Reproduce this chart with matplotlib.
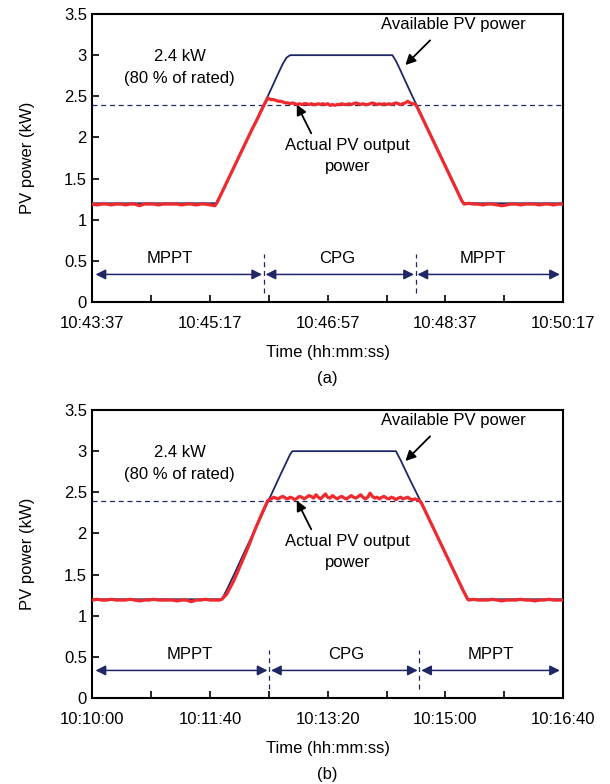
import numpy as np
import matplotlib
matplotlib.use("Agg")
import matplotlib.pyplot as plt

plt.rcParams['font.family'] = ['Liberation Sans', 'DejaVu Sans']

NAVY = '#1f2766'
RED = '#ee2a2e'

# ---------------- Panel (a) data ----------------
a_xticklabels = ["10:43:37", "10:45:17", "10:46:57", "10:48:37", "10:50:17"]
a_av_t = [0, 60, 105, 110, 120, 130, 140, 150, 158, 162, 165, 168, 255, 258, 262, 270, 275, 280, 290, 300, 310, 315, 360, 400]
a_av_p = [1.20, 1.20, 1.20, 1.33, 1.63, 1.93, 2.23, 2.53, 2.78, 2.90, 2.97, 3.00, 3.00, 2.93, 2.81, 2.56, 2.41, 2.26, 1.96, 1.66, 1.36, 1.20, 1.20, 1.20]

a_m1 = [1.19, 1.18, 1.19, 1.19, 1.18, 1.19, 1.19, 1.18, 1.19, 1.19, 1.17, 1.19, 1.19, 1.19,
        1.18, 1.19, 1.19, 1.19, 1.19, 1.18, 1.19, 1.19, 1.18, 1.19, 1.19, 1.18, 1.17]
a_up_t = [106, 110, 115, 120, 125, 130, 135, 140, 145, 149]
a_up_p = [1.21, 1.33, 1.48, 1.63, 1.78, 1.93, 2.08, 2.22, 2.37, 2.48]
a_cpg = [2.47, 2.46, 2.46, 2.45, 2.44, 2.44, 2.43, 2.42, 2.42, 2.41, 2.42, 2.41, 2.40, 2.41,
         2.40, 2.41, 2.41, 2.40, 2.41, 2.40, 2.40, 2.41, 2.40, 2.41, 2.40, 2.41, 2.39, 2.40,
         2.39, 2.40, 2.40, 2.41, 2.40, 2.40, 2.41, 2.40, 2.41, 2.42, 2.41, 2.40, 2.41, 2.40,
         2.40, 2.41, 2.42, 2.41, 2.40, 2.41, 2.40, 2.41, 2.40, 2.41, 2.40, 2.41, 2.42, 2.41,
         2.40, 2.41, 2.42, 2.44, 2.42, 2.41, 2.41]
a_dn_t = [276, 280, 285, 290, 295, 300, 305, 310, 314]
a_dn_p = [2.37, 2.25, 2.10, 1.95, 1.80, 1.65, 1.50, 1.35, 1.23]
a_m2 = [1.19, 1.20, 1.19, 1.19, 1.18, 1.19, 1.19, 1.18, 1.17, 1.18, 1.19, 1.19, 1.18, 1.19,
        1.19, 1.19, 1.18, 1.19, 1.19, 1.18, 1.19, 1.19]
a_bounds = [145.7, 274.8]

# ---------------- Panel (b) data ----------------
b_xticklabels = ["10:10:00", "10:11:40", "10:13:20", "10:15:00", "10:16:40"]
b_av_t = [0, 60, 110, 114, 120, 130, 140, 150, 160, 165, 168, 170, 258, 262, 270, 279, 290, 300, 310, 316, 319, 360, 400]
b_av_p = [1.20, 1.20, 1.20, 1.31, 1.49, 1.80, 2.10, 2.41, 2.72, 2.87, 2.96, 3.00, 3.00, 2.89, 2.65, 2.39, 2.06, 1.76, 1.47, 1.29, 1.20, 1.20, 1.20]

b_m1 = [1.19, 1.20, 1.19, 1.19, 1.20, 1.19, 1.19, 1.19, 1.20, 1.19, 1.18, 1.19, 1.19, 1.20,
        1.19, 1.19, 1.19, 1.19, 1.18, 1.19, 1.19, 1.17, 1.19, 1.19, 1.20, 1.19, 1.19, 1.19]
b_up_t = [110, 114, 120, 126, 132, 138, 144, 149]
b_up_p = [1.20, 1.26, 1.42, 1.62, 1.82, 2.04, 2.24, 2.40]
b_cpg = [2.41, 2.42, 2.44, 2.43, 2.42, 2.44, 2.45, 2.43, 2.42, 2.44, 2.43, 2.41, 2.43, 2.45,
         2.44, 2.42, 2.44, 2.46, 2.45, 2.43, 2.47, 2.44, 2.42, 2.45, 2.48, 2.44, 2.43, 2.46,
         2.44, 2.42, 2.44, 2.45, 2.43, 2.42, 2.44, 2.46, 2.44, 2.43, 2.45, 2.47, 2.44, 2.42,
         2.44, 2.49, 2.45, 2.43, 2.44, 2.42, 2.44, 2.45, 2.43, 2.42, 2.44, 2.43, 2.41, 2.43,
         2.44, 2.42, 2.43, 2.44, 2.42, 2.41, 2.42, 2.41, 2.40]
b_dn_t = [280, 285, 290, 295, 300, 305, 310, 315, 319]
b_dn_p = [2.36, 2.21, 2.06, 1.91, 1.76, 1.61, 1.46, 1.31, 1.20]
b_m2 = [1.19, 1.20, 1.19, 1.19, 1.19, 1.20, 1.19, 1.18, 1.19, 1.19, 1.19, 1.20, 1.19, 1.19,
        1.18, 1.19, 1.19, 1.20, 1.19, 1.19, 1.19]
b_bounds = [150.3, 278.0]

rated_line = 2.4
yticks = [0, 0.5, 1, 1.5, 2, 2.5, 3, 3.5]
ytick_labels = ["0", "0.5", "1", "1.5", "2", "2.5", "3", "3.5"]
modes = ["MPPT", "CPG", "MPPT"]


def build_red(m1, m1_end, up_t, up_p, cpg, cpg_span, dn_t, dn_p, m2, m2_span):
    t = list(np.linspace(0, m1_end, len(m1))) + list(up_t) + \
        list(np.linspace(cpg_span[0], cpg_span[1], len(cpg))) + list(dn_t) + \
        list(np.linspace(m2_span[0], m2_span[1], len(m2)))
    p = list(m1) + list(up_p) + list(cpg) + list(dn_p) + list(m2)
    return t, p


fig = plt.figure(figsize=(6.10, 7.84), dpi=100)
ax_a = fig.add_axes([0.1516, 0.6148, 0.7713, 0.3673])
ax_b = fig.add_axes([0.1516, 0.1097, 0.7713, 0.3673])

panels = [
    (ax_a, a_xticklabels, a_av_t, a_av_p,
     build_red(a_m1, 104, a_up_t, a_up_p, a_cpg, (150, 274), a_dn_t, a_dn_p, a_m2, (316, 400)),
     a_bounds, [66, 208, 332], "(a)"),
    (ax_b, b_xticklabels, b_av_t, b_av_p,
     build_red(b_m1, 108, b_up_t, b_up_p, b_cpg, (150, 278), b_dn_t, b_dn_p, b_m2, (320, 400)),
     b_bounds, [82.6, 215.7, 338.6], "(b)"),
]

for ax, xtl, av_t, av_p, (rt, rp), bounds, mode_x, cap in panels:
    ax.plot(av_t, av_p, color=NAVY, lw=1.3, zorder=3)
    ax.plot(rt, rp, color=RED, lw=2.3, zorder=4)
    ax.axhline(rated_line, color=NAVY, lw=0.9, ls=(0, (4, 3)), zorder=2)

    # mode boundaries
    for b in bounds:
        ax.plot([b, b], [0.11, 0.58], color=NAVY, lw=0.9, ls=(0, (4, 3)))
    segs = [(2.6, bounds[0] - 1.5), (bounds[0] + 1.5, bounds[1] - 1.5), (bounds[1] + 1.5, 397.4)]
    for (x0, x1), lab, mx in zip(segs, modes, mode_x):
        ax.annotate("", xy=(x1, 0.335), xytext=(x0, 0.335),
                    arrowprops=dict(arrowstyle='<|-|>', color=NAVY, lw=1.1,
                                    mutation_scale=15, shrinkA=0, shrinkB=0))
        ax.text(mx, 0.525, lab, ha='center', va='center', fontsize=12)

    ax.text(74.3, 2.98, "2.4 kW", ha='center', va='center', fontsize=12)
    ax.text(74.3, 2.72, "(80 % of rated)", ha='center', va='center', fontsize=12)
    ax.text(306.5, 3.37, "Available PV power", ha='center', va='center', fontsize=12)
    ax.annotate("", xy=(266, 2.88), xytext=(287, 3.18),
                arrowprops=dict(arrowstyle='-|>', color='black', lw=1.3,
                                mutation_scale=15, shrinkA=0, shrinkB=0))
    ax.text(216.7, 1.90, "Actual PV output", ha='center', va='center', fontsize=12)
    ax.text(216.7, 1.65, "power", ha='center', va='center', fontsize=12)
    ax.annotate("", xy=(173.7, 2.40), xytext=(186, 2.05),
                arrowprops=dict(arrowstyle='-|>', color='black', lw=1.3,
                                mutation_scale=15, shrinkA=0, shrinkB=0))

    ax.set_xlim(0, 400)
    ax.set_ylim(0, 3.5)
    ax.set_xticks([0, 100, 200, 300, 400])
    ax.set_xticklabels(xtl)
    ax.set_xticks([50, 150, 250, 350], minor=True)
    ax.set_yticks(yticks)
    ax.set_yticklabels(ytick_labels)
    ax.tick_params(axis='both', which='both', direction='in', labelsize=12,
                   length=5, width=1.2, pad=4)
    ax.tick_params(axis='x', which='both', pad=10)
    for s in ax.spines.values():
        s.set_linewidth(1.5)
        s.set_color('black')
    ax.set_xlabel("Time (hh:mm:ss)", fontsize=12, labelpad=10)
    ax.set_ylabel("PV power (kW)", fontsize=12, labelpad=21)
    ax.text(0.5, -0.265, cap, transform=ax.transAxes, ha='center', va='center', fontsize=12)

fig.savefig("out.png", dpi=100)
